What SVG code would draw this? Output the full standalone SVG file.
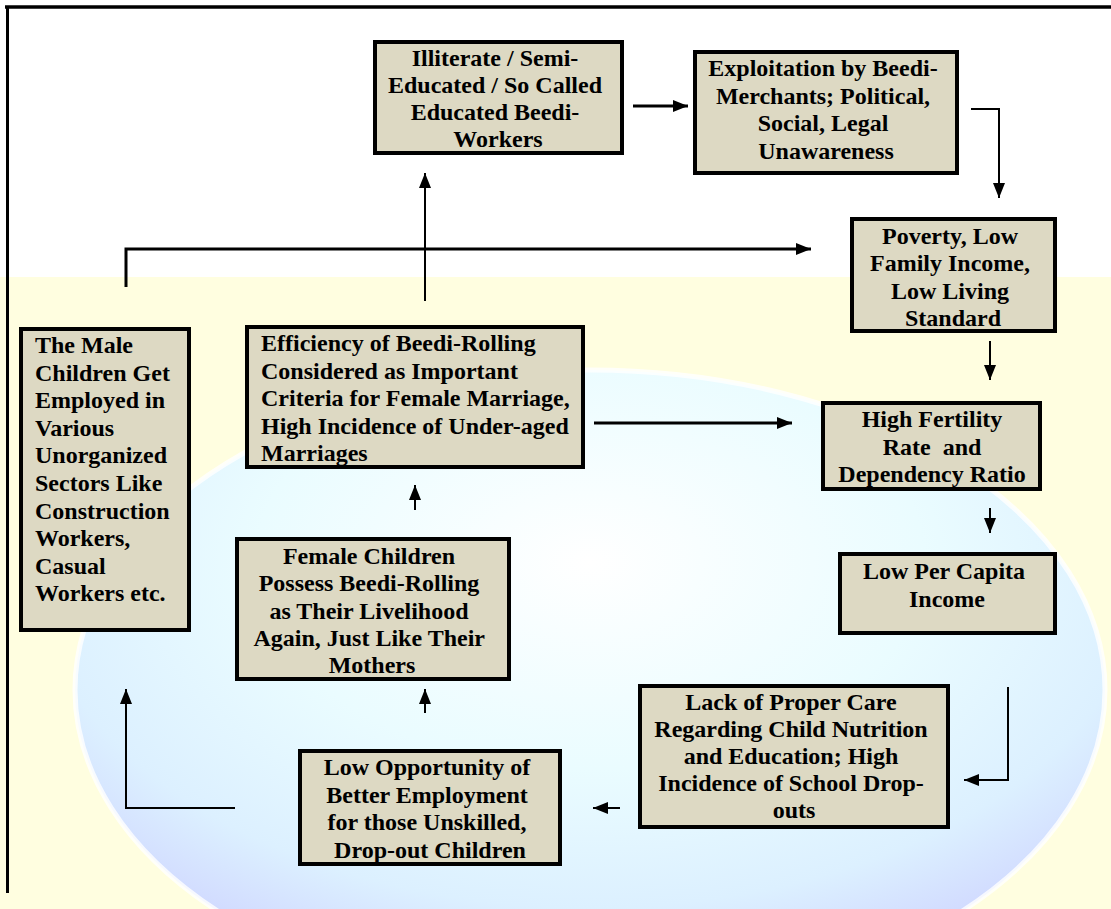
<svg xmlns="http://www.w3.org/2000/svg" width="1111" height="909" viewBox="0 0 1111 909">
  <defs>
    <radialGradient id="globe" cx="0.5" cy="0.3" r="0.72">
      <stop offset="0" stop-color="#ffffff"/>
      <stop offset="0.45" stop-color="#eafcff"/>
      <stop offset="0.75" stop-color="#dcf0ff"/>
      <stop offset="0.9" stop-color="#d2dcff"/>
      <stop offset="1" stop-color="#c8cefc"/>
    </radialGradient>
    <marker id="ah" markerUnits="userSpaceOnUse" markerWidth="15" markerHeight="12" refX="15" refY="6" orient="auto">
      <path d="M0,0 L15,6 L0,12 z" fill="#000"/>
    </marker>
    <style>
      .box { fill: #ddd9c3; stroke: #000; stroke-width: 4; }
      .t { font-family: "Liberation Serif", "Times New Roman", serif; font-weight: bold; font-size: 24px; fill: #000; }
      .c { text-anchor: middle; }
      .ln { fill: none; stroke: #000; stroke-width: 2; }
      .thick { stroke-width: 3; }
    </style>
  </defs>

  <!-- background -->
  <g id="background">
    <rect x="0" y="0" width="1111" height="909" fill="#ffffff"/>
    <rect x="0" y="277" width="1111" height="632" fill="#fffee0"/>
    <ellipse cx="590" cy="690" rx="515" ry="320" fill="url(#globe)" stroke="#ffffff" stroke-width="5" stroke-opacity="0.8"/>
    <line x1="5" y1="7" x2="1111" y2="7" stroke="#000" stroke-width="3.5"/>
    <line x1="7.5" y1="7" x2="7.5" y2="893" stroke="#000" stroke-width="3"/>
  </g>

  <!-- connectors -->
  <g id="connectors">
    <line class="ln thick" x1="633" y1="106" x2="688" y2="106" marker-end="url(#ah)"/>
    <polyline class="ln" points="971,109 999,109 999,198" marker-end="url(#ah)"/>
    <line class="ln" x1="990" y1="341" x2="990" y2="380" marker-end="url(#ah)"/>
    <line class="ln" x1="990" y1="508" x2="990" y2="533" marker-end="url(#ah)"/>
    <polyline class="ln" points="1008,687 1008,780 964,780" marker-end="url(#ah)"/>
    <line class="ln" x1="620" y1="808" x2="593" y2="808" marker-end="url(#ah)"/>
    <polyline class="ln" points="235,808 126,808 126,689" marker-end="url(#ah)"/>
    <line class="ln" x1="425" y1="713" x2="425" y2="689" marker-end="url(#ah)"/>
    <line class="ln" x1="415" y1="510" x2="415" y2="485" marker-end="url(#ah)"/>
    <line class="ln" x1="425" y1="301" x2="425" y2="173" marker-end="url(#ah)"/>
    <line class="ln thick" x1="594" y1="423" x2="792" y2="423" marker-end="url(#ah)"/>
    <polyline class="ln thick" points="126,287 126,249 811,249" marker-end="url(#ah)"/>
  </g>

  <g id="node-illiterate">
    <rect class="box" x="375" y="42" width="247" height="111"/>
    <text class="t c" x="498" y="66">
      <tspan x="498">Illiterate / Semi-</tspan>
      <tspan x="498" dy="27">Educated / So Called</tspan>
      <tspan x="498" dy="27">Educated Beedi-</tspan>
      <tspan x="498" dy="27">Workers</tspan>
    </text>
  </g>

  <g id="node-exploitation">
    <rect class="box" x="695" y="52" width="262" height="121"/>
    <text class="t c" x="826" y="76">
      <tspan x="826">Exploitation by Beedi-</tspan>
      <tspan x="826" dy="27.5">Merchants; Political,</tspan>
      <tspan x="826" dy="27.5">Social, Legal</tspan>
      <tspan x="826" dy="27.5">Unawareness</tspan>
    </text>
  </g>

  <g id="node-poverty">
    <rect class="box" x="852" y="219" width="203" height="112"/>
    <text class="t c" x="953" y="244">
      <tspan x="953">Poverty, Low</tspan>
      <tspan x="953" dy="27.3">Family Income,</tspan>
      <tspan x="953" dy="27.3">Low Living</tspan>
      <tspan x="953" dy="27.3">Standard</tspan>
    </text>
  </g>

  <g id="node-male">
    <rect class="box" x="21" y="329" width="168" height="301"/>
    <text class="t" x="35" y="353">
      <tspan x="35">The Male</tspan>
      <tspan x="35" dy="27.6">Children Get</tspan>
      <tspan x="35" dy="27.6">Employed in</tspan>
      <tspan x="35" dy="27.6">Various</tspan>
      <tspan x="35" dy="27.6">Unorganized</tspan>
      <tspan x="35" dy="27.6">Sectors Like</tspan>
      <tspan x="35" dy="27.6">Construction</tspan>
      <tspan x="35" dy="27.6">Workers,</tspan>
      <tspan x="35" dy="27.6">Casual</tspan>
      <tspan x="35" dy="27.6">Workers etc.</tspan>
    </text>
  </g>

  <g id="node-efficiency">
    <rect class="box" x="247" y="327" width="336" height="140"/>
    <text class="t" x="261" y="351">
      <tspan x="261">Efficiency of Beedi-Rolling</tspan>
      <tspan x="261" dy="27.5">Considered as Important</tspan>
      <tspan x="261" dy="27.5">Criteria for Female Marriage,</tspan>
      <tspan x="261" dy="27.5">High Incidence of Under-aged</tspan>
      <tspan x="261" dy="27.5">Marriages</tspan>
    </text>
  </g>

  <g id="node-fertility">
    <rect class="box" x="823" y="403" width="217" height="86"/>
    <text class="t c" x="932" y="427" xml:space="preserve"><tspan x="932">High Fertility</tspan><tspan x="932" dy="27.5">Rate  and</tspan><tspan x="932" dy="27.5">Dependency Ratio</tspan></text>
  </g>

  <g id="node-percapita">
    <rect class="box" x="840" y="554" width="215" height="79"/>
    <text class="t c" x="947" y="579">
      <tspan x="947">Low Per Capita</tspan>
      <tspan x="947" dy="27.5">Income</tspan>
    </text>
  </g>

  <g id="node-female">
    <rect class="box" x="237" y="539" width="272" height="140"/>
    <text class="t c" x="372" y="564">
      <tspan x="372">Female Children</tspan>
      <tspan x="372" dy="27.3">Possess Beedi-Rolling</tspan>
      <tspan x="372" dy="27.3">as Their Livelihood</tspan>
      <tspan x="372" dy="27.3">Again, Just Like Their</tspan>
      <tspan x="372" dy="27.3">Mothers</tspan>
    </text>
  </g>

  <g id="node-lackcare">
    <rect class="box" x="640" y="686" width="308" height="141"/>
    <text class="t c" x="794" y="710">
      <tspan x="794">Lack of Proper Care</tspan>
      <tspan x="794" dy="27">Regarding Child Nutrition</tspan>
      <tspan x="794" dy="27">and Education; High</tspan>
      <tspan x="794" dy="27">Incidence of School Drop-</tspan>
      <tspan x="794" dy="27">outs</tspan>
    </text>
  </g>

  <g id="node-lowopportunity">
    <rect class="box" x="300" y="751" width="260" height="113"/>
    <text class="t c" x="430" y="775">
      <tspan x="430">Low Opportunity of</tspan>
      <tspan x="430" dy="27.5">Better Employment</tspan>
      <tspan x="430" dy="27.5">for those Unskilled,</tspan>
      <tspan x="430" dy="27.5">Drop-out Children</tspan>
    </text>
  </g>
</svg>
